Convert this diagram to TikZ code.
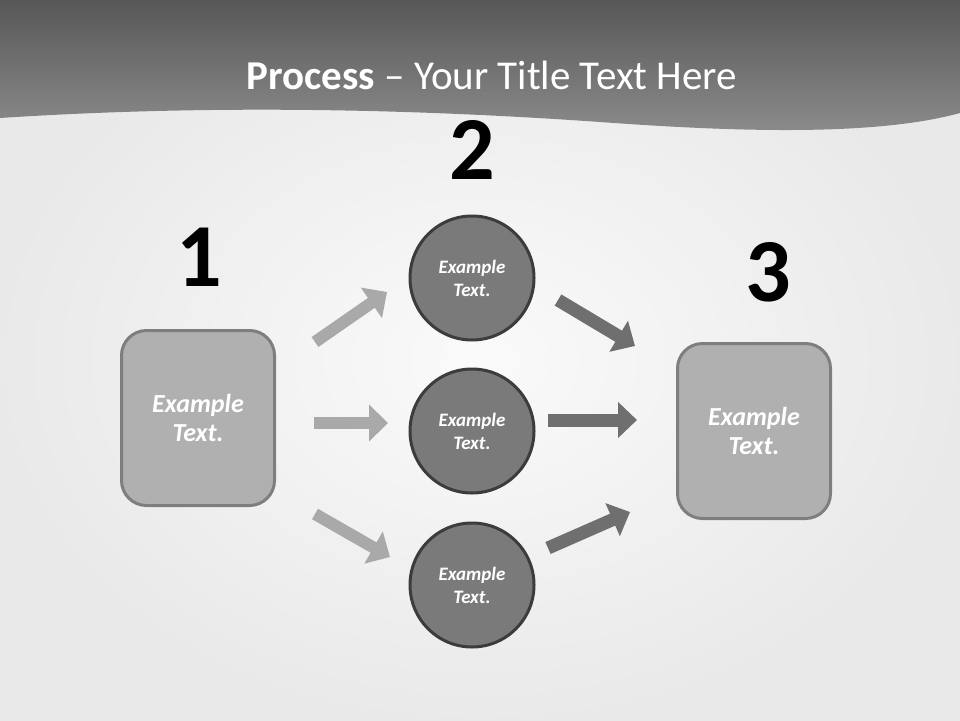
\documentclass[tikz,border=0pt]{standalone}
\usepackage{fontspec}
\setmainfont{Carlito}
\usetikzlibrary{arrows.meta}

\definecolor{bandtop}{HTML}{575757}
\definecolor{bandbot}{HTML}{8C8C8C}
\definecolor{boxfill}{HTML}{B0B0B0}
\definecolor{boxline}{HTML}{7E7E7E}
\definecolor{circfill}{HTML}{7A7A7A}
\definecolor{circline}{HTML}{3C3C3C}
\definecolor{arrlight}{HTML}{A9A9A9}
\definecolor{arrdark}{HTML}{6F6F6F}

\begin{document}
\begin{tikzpicture}[x=1pt, y=-1pt,
    stepbox/.style={draw=boxline, fill=boxfill, line width=3pt, rounded corners=25pt,
      minimum width=153pt, minimum height=175pt, text=white, align=center,
      font=\fontsize{26}{29}\selectfont\bfseries\itshape},
    stepcirc/.style={circle, draw=circline, fill=circfill, line width=3pt,
      minimum size=124pt, inner sep=0pt, text=white, align=center,
      font=\fontsize{19}{23}\selectfont\bfseries\itshape},
    numlbl/.style={font=\fontsize{90}{92}\selectfont\bfseries, text=black},
    lightarr/.style={draw=arrlight, line width=12pt, -{Triangle[length=19pt,width=36pt]}},
    darkarr/.style={draw=arrdark, line width=13pt, -{Triangle[length=19pt,width=35pt]}}]
    \useasboundingbox (0,0) rectangle (960,720);
    % background and title band
    \shade[inner color=gray!4, outer color=gray!17] (0,0) rectangle (960,720);
    \shade[top color=bandtop, bottom color=bandbot]
      (0,0) -- (960,0) -- (960,113)
      .. controls (880,135) and (750,133) .. (600,122)
      .. controls (400,108) and (200,105) .. (0,118) -- cycle;
    \node[text=white, font=\fontsize{41}{44}\selectfont] (title) at (492,75)
      {\textbf{Process} – Your Title Text Here};

    % steps
    \node[stepbox] (src) at (198,418) {Example\\Text.};
    \node[stepcirc] (mid1) at (472,278) {Example\\Text.};
    \node[stepcirc] (mid2) at (472,431) {Example\\Text.};
    \node[stepcirc] (mid3) at (472,585) {Example\\Text.};
    \node[stepbox] (dst) at (754,431) {Example\\Text.};

    \node[numlbl] (num1) at (199,257) {1};
    \node[numlbl] (num2) at (472,150) {2};
    \node[numlbl] (num3) at (768,272) {3};

    % arrow ends
    \coordinate (a1s) at (315,342); \coordinate (a1e) at (387,292);
    \coordinate (a2s) at (314,423); \coordinate (a2e) at (388,423);
    \coordinate (a3s) at (315,514); \coordinate (a3e) at (390,557);
    \coordinate (b1s) at (558,300); \coordinate (b1e) at (635,346);
    \coordinate (b2s) at (548,420); \coordinate (b2e) at (637,420);
    \coordinate (b3s) at (548,548); \coordinate (b3e) at (630,512);

    \path[lightarr] (a1s) -- (a1e);
    \path[lightarr] (a2s) -- (a2e);
    \path[lightarr] (a3s) -- (a3e);
    \path[darkarr] (b1s) -- (b1e);
    \path[darkarr] (b2s) -- (b2e);
    \path[darkarr] (b3s) -- (b3e);
\end{tikzpicture}
\end{document}
